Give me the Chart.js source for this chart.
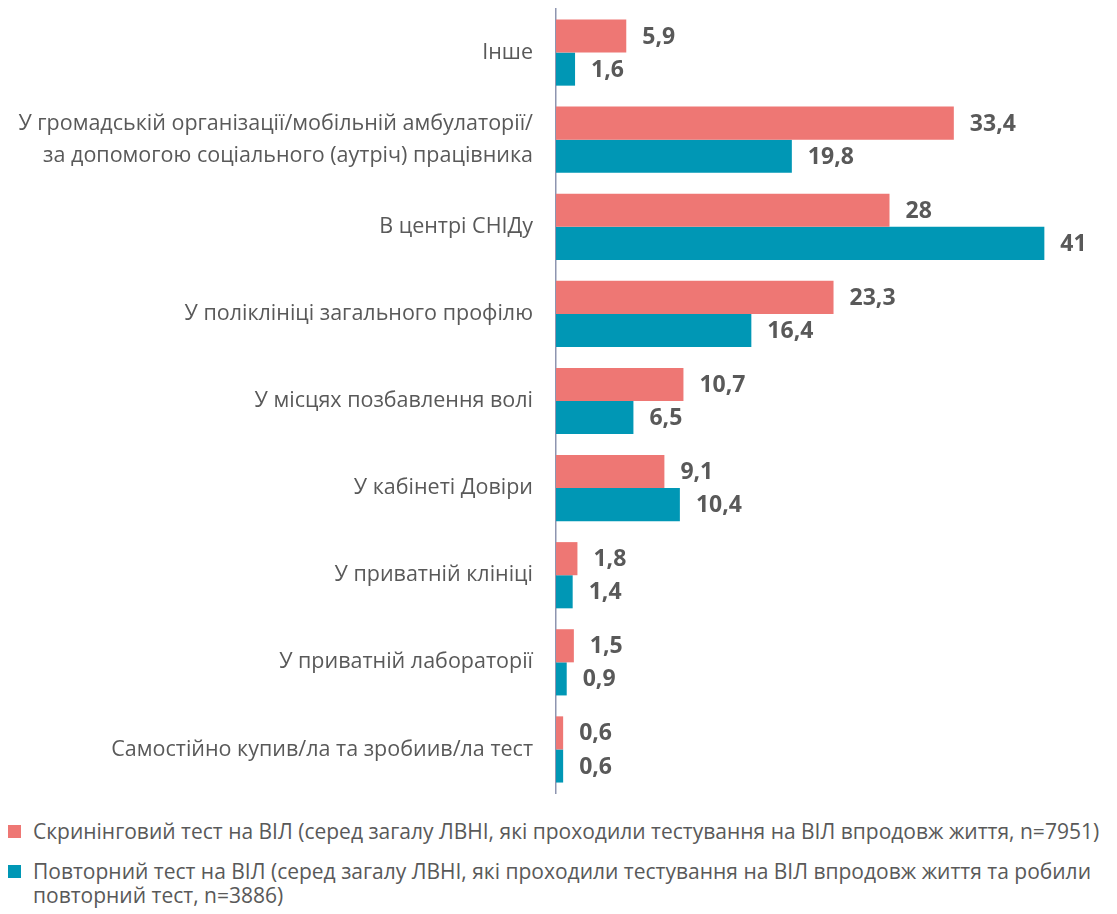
<!DOCTYPE html>
<html>
<head>
<meta charset="utf-8">
<script src="https://cdn.jsdelivr.net/npm/chart.js@4"></script>
<style>
    body { margin: 0; background: #fff; font-family: "Open Sans", sans-serif; }
    #wrap { position: relative; width: 1117px; height: 805px; }
    #legend { position: absolute; left: 0; top: 819px; width: 1105px; color: #595959; font-size: 21px; line-height: 24.5px; }
    .item { position: relative; padding-left: 33px; margin-bottom: 15px; }
    .box { position: absolute; left: 8px; top: 6px; width: 13px; height: 13px; }
</style>
</head>
<body>
<div id="wrap"><canvas id="chart"></canvas></div>
<div id="legend"></div>
<script>
const categories = [
    "Інше",
    ["У громадській організації/мобільній амбулаторії/", "за допомогою соціального (аутріч) працівника"],
    "В центрі СНІДу",
    "У поліклініці загального профілю",
    "У місцях позбавлення волі",
    "У кабінеті Довіри",
    "У приватній клініці",
    "У приватній лабораторії",
    "Самостійно купив/ла та зробиив/ла тест"
];
const screening = [5.9, 33.4, 28, 23.3, 10.7, 9.1, 1.8, 1.5, 0.6];
const repeated = [1.6, 19.8, 41, 16.4, 6.5, 10.4, 1.4, 0.9, 0.6];
const seriesNames = [
    "Скринінговий тест на ВІЛ (серед загалу ЛВНІ, які проходили тестування на ВІЛ впродовж життя, n=7951)",
    "Повторний тест на ВІЛ (серед загалу ЛВНІ, які проходили тестування на ВІЛ впродовж життя та робили повторний тест, n=3886)"
];
const colors = ["#EE7774", "#0097B5"];

const fmt = v => String(v).replace('.', ',');

// value labels to the right of each bar
const valueLabels = {
    id: 'valueLabels',
    afterDatasetsDraw(chart) {
        const ctx = chart.ctx;
        ctx.save();
        ctx.font = 'bold 23px "Open Sans"';
        ctx.fillStyle = '#595959';
        ctx.textBaseline = 'middle';
        chart.data.datasets.forEach((ds, i) => {
            chart.getDatasetMeta(i).data.forEach((bar, j) => {
                ctx.fillText(fmt(ds.data[j]), bar.x + 16, bar.y + 1);
            });
        });
        ctx.restore();
    }
};

function draw() {
    const ctx = document.getElementById('chart');
    new Chart(ctx, {
        type: 'bar',
        data: {
            labels: categories,
            datasets: [
                { label: seriesNames[0], data: screening, backgroundColor: colors[0] },
                { label: seriesNames[1], data: repeated, backgroundColor: colors[1] }
            ]
        },
        options: {
            indexAxis: 'y',
            responsive: true,
            maintainAspectRatio: false,
            animation: false,
            categoryPercentage: 0.76,
            barPercentage: 1,
            layout: { padding: { top: 9, bottom: 12, right: 25 } },
            plugins: { legend: { display: false }, tooltip: { enabled: false } },
            scales: {
                x: { display: false, min: 0, max: 45 },
                y: {
                    grid: { drawOnChartArea: false, drawTicks: false },
                    border: { color: '#8E95B0', width: 1.5 },
                    afterFit: s => { s.width = 556; s.paddingTop = 0; s.paddingBottom = 0; },
                    ticks: {
                        padding: 23,
                        color: '#595959',
                        font: { family: '"Open Sans"', size: 21.5, lineHeight: 1.5 }
                    }
                }
            }
        },
        plugins: [valueLabels]
    });

    const legend = document.getElementById('legend');
    seriesNames.forEach((name, i) => {
        const item = document.createElement('div');
        item.className = 'item';
        item.innerHTML = '<span class="box" style="background:' + colors[i] + '"></span>' + name;
        legend.appendChild(item);
    });
}

Promise.all([
    document.fonts.load('21px "Open Sans"'),
    document.fonts.load('bold 23px "Open Sans"')
]).then(draw, draw);
</script>
</body>
</html>
